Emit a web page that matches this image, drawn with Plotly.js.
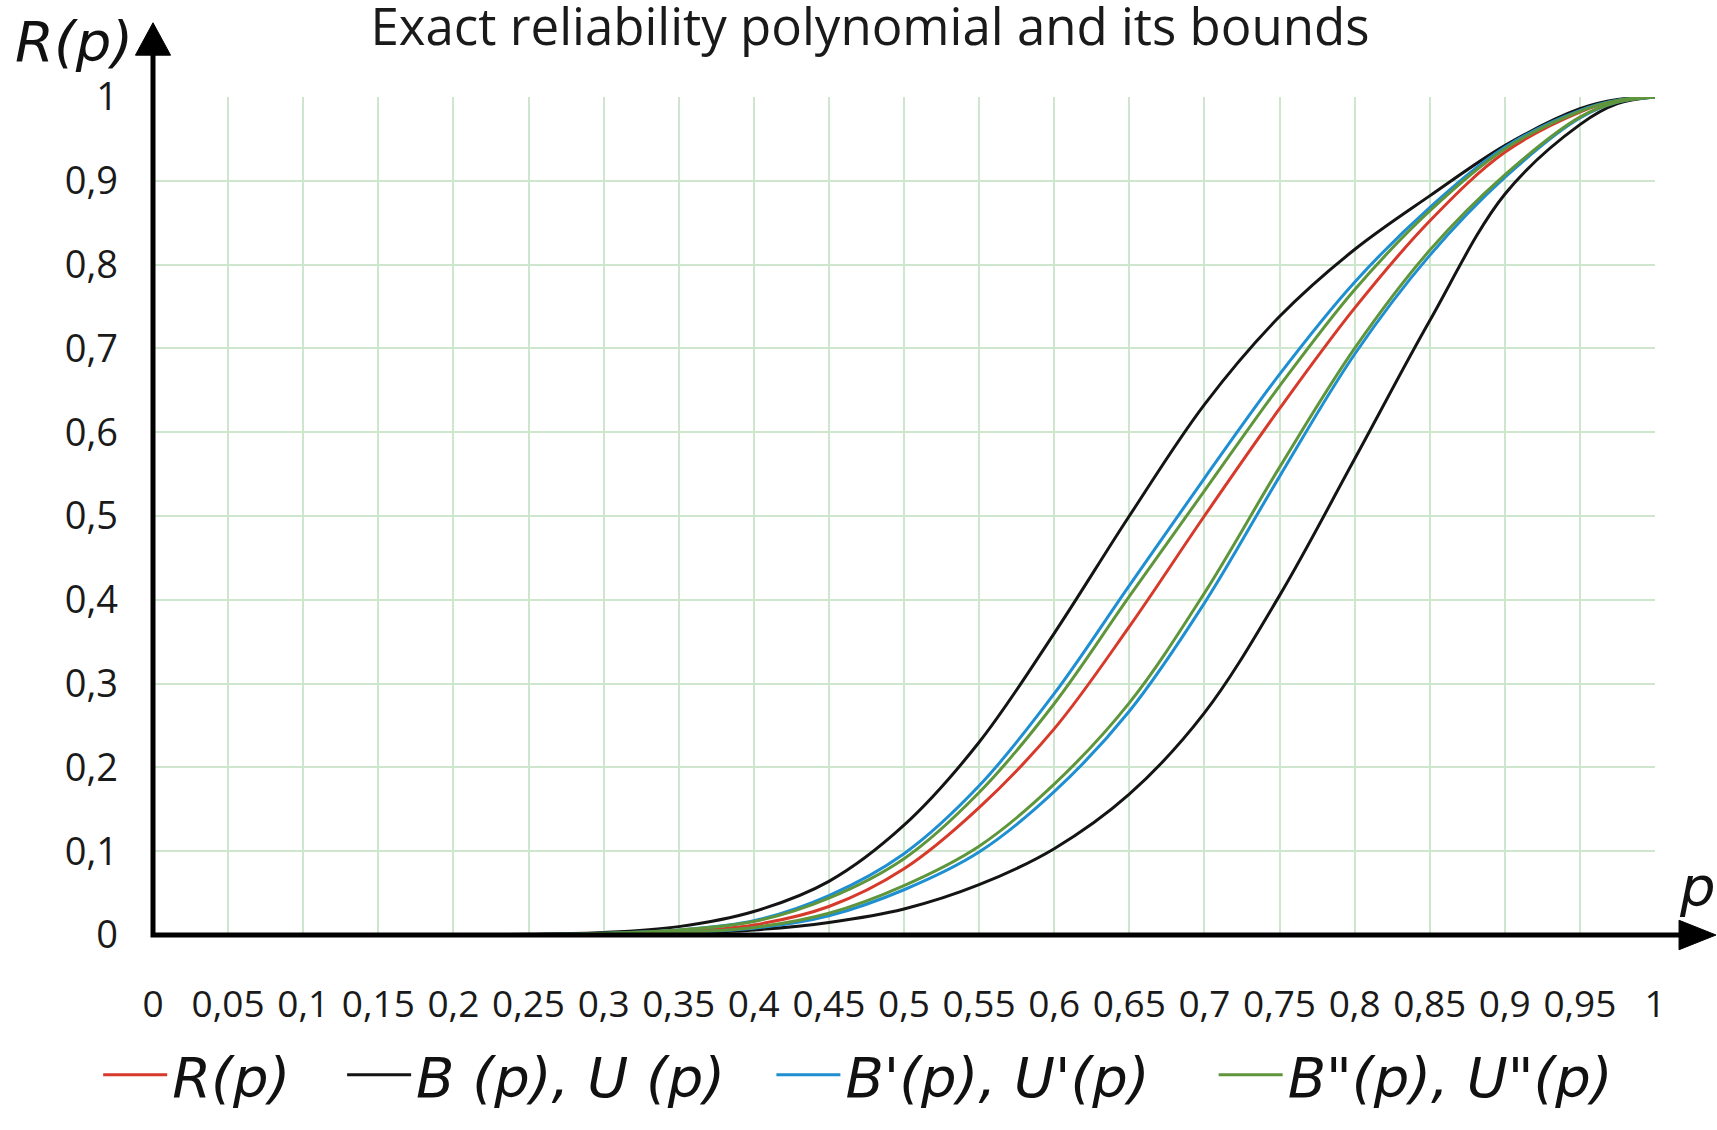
<!DOCTYPE html>
<html>
<head>
<meta charset="utf-8">
<script src="https://cdn.plot.ly/plotly-3.0.1.min.js"></script>
<style>
  html, body { margin: 0; padding: 0; background: #ffffff; }
  #chart { width: 1717px; height: 1130px; }
</style>
</head>
<body>
<div id="chart"></div>
<script>
// ---- data ----
const p = [0, 0.05, 0.1, 0.15, 0.2, 0.25, 0.3, 0.35, 0.4, 0.45, 0.5, 0.55, 0.6, 0.65, 0.7, 0.75, 0.8, 0.85, 0.9, 0.95, 0.975, 1];

const R_exact   = [0, 0, 0, 0, 0, 0.0003, 0.0015, 0.004, 0.012, 0.034, 0.079, 0.152, 0.246, 0.368, 0.500, 0.628, 0.748, 0.852, 0.934, 0.982, 0.996, 1];

const U_upper   = [0, 0, 0, 0, 0.0002, 0.001, 0.003, 0.010, 0.028, 0.064, 0.131, 0.230, 0.360, 0.500, 0.633, 0.738, 0.818, 0.882, 0.942, 0.986, 0.997, 1];
const B_lower   = [0, 0, 0, 0, 0, 0.0001, 0.0005, 0.002, 0.006, 0.015, 0.031, 0.060, 0.103, 0.168, 0.265, 0.405, 0.568, 0.733, 0.884, 0.967, 0.992, 1];

const U1_upper  = [0, 0, 0, 0, 0.0001, 0.0005, 0.002, 0.006, 0.017, 0.047, 0.097, 0.178, 0.288, 0.417, 0.545, 0.669, 0.779, 0.868, 0.940, 0.984, 0.996, 1];
const B1_lower  = [0, 0, 0, 0, 0, 0.0002, 0.001, 0.003, 0.008, 0.023, 0.054, 0.099, 0.171, 0.267, 0.396, 0.547, 0.693, 0.811, 0.904, 0.975, 0.994, 1];

const U2_upper  = [0, 0, 0, 0, 0.0001, 0.0005, 0.002, 0.006, 0.016, 0.044, 0.091, 0.170, 0.276, 0.404, 0.530, 0.655, 0.770, 0.864, 0.938, 0.983, 0.996, 1];
const B2_lower  = [0, 0, 0, 0, 0, 0.0002, 0.001, 0.003, 0.009, 0.026, 0.059, 0.106, 0.180, 0.277, 0.408, 0.558, 0.700, 0.817, 0.907, 0.976, 0.994, 1];

const xTickVals = [0, 0.05, 0.1, 0.15, 0.2, 0.25, 0.3, 0.35, 0.4, 0.45, 0.5, 0.55, 0.6, 0.65, 0.7, 0.75, 0.8, 0.85, 0.9, 0.95, 1];
const xTickText = ["0", "0,05", "0,1", "0,15", "0,2", "0,25", "0,3", "0,35", "0,4", "0,45", "0,5", "0,55", "0,6", "0,65", "0,7", "0,75", "0,8", "0,85", "0,9", "0,95", "1"];
const yTickVals = [0, 0.1, 0.2, 0.3, 0.4, 0.5, 0.6, 0.7, 0.8, 0.9, 1];
const yTickText = ["0", "0,1", "0,2", "0,3", "0,4", "0,5", "0,6", "0,7", "0,8", "0,9", "1"];

const names = ["R(p)", "B (p), U (p)", "B'(p), U'(p)", "B\"(p), U\"(p)"];
const titleText = "Exact reliability polynomial and its bounds";

// ---- styles ----
const RED = "#d7392b", BLACK = "#141414", BLUE = "#1e8fd2", GREEN = "#5f963c";
const LW = 3;
const NB = "\u00A0", THIN = "\u2009", HAIR = "\u200A";
const pads = [NB + NB + THIN, NB + NB + HAIR, NB + NB + NB + HAIR, ""];

function curve(y, color, idx, group, show) {
  return {
    type: "scatter", mode: "lines", x: p, y: y,
    name: names[idx] + pads[idx], legendgroup: group, showlegend: show,
    line: { color: color, width: LW, shape: "spline", smoothing: 1.0 },
    hoverinfo: "skip"
  };
}

const data = [
  curve(R_exact, RED, 0, "r", true),
  curve(U_upper, BLACK, 1, "b", true),
  curve(B_lower, BLACK, 1, "b", false),
  curve(U1_upper, BLUE, 2, "b1", true),
  curve(B1_lower, BLUE, 2, "b1", false),
  curve(U2_upper, GREEN, 3, "b2", true),
  curve(B2_lower, GREEN, 3, "b2", false)
];

const GRID = "rgb(205,230,205)";
const FONT = "Open Sans";
const IFONT = "DejaVu Sans";

const layout = {
  width: 1717, height: 1130,
  margin: { l: 153, r: 62, t: 97, b: 180, pad: 0 },
  paper_bgcolor: "#ffffff", plot_bgcolor: "#ffffff",
  font: { family: FONT, color: "#1a1a1a", size: 37 },
  title: {
    text: titleText,
    font: { family: FONT, size: 51, color: "#1a1a1a" },
    x: 0.5067, xref: "container", xanchor: "center",
    y: 0.976, yref: "container", yanchor: "middle"
  },
  showlegend: true,
  legend: {
    orientation: "h",
    x: -0.0365, xanchor: "left",
    y: -0.167, yanchor: "middle",
    font: { family: IFONT, size: 56, style: "italic", color: "#111111" },
    itemwidth: 64,
    bgcolor: "rgba(0,0,0,0)",
    traceorder: "normal"
  },
  xaxis: {
    range: [0, 1],
    tickvals: xTickVals, ticktext: xTickText,
    showgrid: true, gridcolor: GRID, gridwidth: 2,
    zeroline: false, showline: false, ticks: "",
    ticklabelstandoff: 44,
    tickfont: { family: FONT, size: 37, color: "#1a1a1a" },
    fixedrange: true
  },
  yaxis: {
    range: [0, 1],
    tickvals: yTickVals, ticktext: yTickText,
    showgrid: true, gridcolor: GRID, gridwidth: 2,
    zeroline: false, showline: false, ticks: "",
    ticklabelstandoff: 34,
    tickfont: { family: FONT, size: 38, color: "#1a1a1a" },
    fixedrange: true
  },
  shapes: [
    // axes with arrows
    { type: "path", xref: "paper", yref: "paper", layer: "above",
      path: "M 0 1.05 L 0 0 L 1.017 0",
      line: { color: "#000000", width: 5 } },
    { type: "path", xref: "paper", yref: "paper", layer: "above",
      path: "M -0.0117 1.0499 L 0 1.0886 L 0.0117 1.0499 Z",
      fillcolor: "#000000", line: { color: "#000000", width: 1 } },
    { type: "path", xref: "paper", yref: "paper", layer: "above",
      path: "M 1.016 0.0176 L 1.0406 0 L 1.016 -0.0176 Z",
      fillcolor: "#000000", line: { color: "#000000", width: 1 } }
  ],
  annotations: [
    { text: "R(p)", xref: "paper", yref: "paper", x: -0.0935, y: 1.066,
      xanchor: "left", yanchor: "middle", showarrow: false,
      font: { family: IFONT, size: 56, style: "italic", color: "#111111" } },
    { text: "p", xref: "paper", yref: "paper", x: 1.028, y: 0.058,
      xanchor: "center", yanchor: "middle", showarrow: false,
      font: { family: IFONT, size: 56, style: "italic", color: "#111111" } }
  ]
};

Plotly.newPlot("chart", data, layout, { displayModeBar: false, staticPlot: true });
</script>
</body>
</html>
